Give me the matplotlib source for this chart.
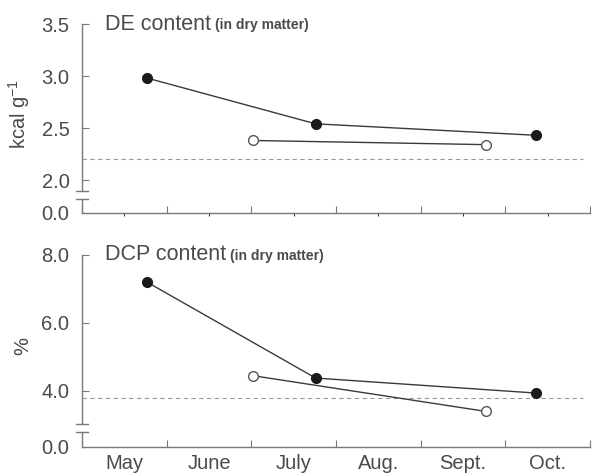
import matplotlib
matplotlib.use("Agg")
import matplotlib.pyplot as plt

plt.rcParams.update({"font.family": ["Liberation Sans", "DejaVu Sans"], "font.size": 14,
                     "mathtext.fontset": "custom", "mathtext.rm": "Liberation Sans",
                     "mathtext.it": "Liberation Sans:italic"})

TXT = "#4a4a4a"; AX = "#7a7a7a"; LN = "#3a3a3a"

months = ["May", "June", "July", "Aug.", "Sept.", "Oct."]

# sampling dates as fractional month position (0 = start of May)
de_fill_x = [0.77, 2.76, 5.36]
de_fill_y = [2.98, 2.54, 2.43]
de_open_x = [2.02, 4.77]
de_open_y = [2.38, 2.34]
de_ref = 2.20

dcp_fill_x = [0.77, 2.76, 5.36]
dcp_fill_y = [7.20, 4.38, 3.94]
dcp_open_x = [2.02, 4.77]
dcp_open_y = [4.45, 3.40]
dcp_ref = 3.78

W, H = 599, 476
fig = plt.figure(figsize=(W / 100, H / 100), dpi=100)

def fy(px):
    return 1 - px / H

L, R = 82 / W, 590 / W
FS = 14.5

def panel(top_px, brk1_px, brk2_px, base_px, ylim, yticks, ylabs, fx, fyv, ox, oyv, ref,
          title, sub, ylab, lab_y):
    # upper part of the broken axis
    ax = fig.add_axes([L, fy(brk1_px), R - L, fy(top_px) - fy(brk1_px)])
    ax.set_xlim(0, 6); ax.set_ylim(*ylim)
    for s in ["top", "right", "bottom"]:
        ax.spines[s].set_visible(False)
    ax.spines["left"].set_color(AX); ax.spines["left"].set_linewidth(1.0)
    ax.set_xticks([])
    ax.set_yticks(yticks); ax.set_yticklabels(ylabs)
    ax.tick_params(axis="y", direction="in", length=5, color=AX, labelcolor=TXT,
                   labelsize=FS, pad=9)
    ax.axhline(ref, xmin=0, xmax=582 / 590, color="#9a9a9a", lw=0.8, ls=(0, (4, 3)))
    ax.plot(fx, fyv, "-o", color=LN, lw=1.0, ms=7, mfc="#1a1a1a", mec="#1a1a1a", zorder=3)
    ax.plot(ox, oyv, "-o", color=LN, lw=1.0, ms=7, mfc="white", mec="#555555",
            mew=1.0, zorder=3)
    t = ax.text(0.045, 1.0, title, transform=ax.transAxes, fontsize=15.5, color=TXT,
                va="center", ha="left")
    ax.annotate(sub, xy=(1, 0.5), xycoords=t, xytext=(3, -1),
                textcoords="offset points", fontsize=10, color=TXT, va="center",
                fontweight="bold")
    ax.set_ylabel(ylab, color=TXT, fontsize=FS)
    ax.yaxis.set_label_coords(-0.098, lab_y)
    # break cap
    ax.plot([-0.07, 0.07], [ylim[0], ylim[0]], color=AX, lw=1.0, clip_on=False)

    # lower part holding the zero and the month axis
    bx = fig.add_axes([L, fy(base_px), R - L, fy(brk2_px) - fy(base_px)])
    bx.set_xlim(0, 6); bx.set_ylim(0, 1)
    bx.spines[["top", "right"]].set_visible(False)
    for s in ["left", "bottom"]:
        bx.spines[s].set_color(AX); bx.spines[s].set_linewidth(1.0)
    bx.set_yticks([0]); bx.set_yticklabels(["0.0"])
    bx.tick_params(axis="y", length=0, labelcolor=TXT, labelsize=FS, pad=9)
    bx.set_xticks(range(7))
    bx.tick_params(axis="x", direction="in", length=5, color=AX, labelcolor=TXT)
    bx.set_xticks([i + 0.5 for i in range(6)], minor=True)
    bx.set_xticklabels([])
    bx.plot([-0.07, 0.07], [1, 1], color=AX, lw=1.0, clip_on=False)
    return ax, bx

panel(24, 191, 199, 213, (2.0 - 11 / 104, 3.5), [2.0, 2.5, 3.0, 3.5],
      ["2.0", "2.5", "3.0", "3.5"], de_fill_x, de_fill_y, de_open_x, de_open_y, de_ref,
      "DE content", "(in dry matter)", "kcal g$^{-1}$", 0.46)

ax2, bx2 = panel(255, 424, 432, 447, (4.0 - 33 / 34, 8.0), [4.0, 6.0, 8.0],
                 ["4.0", "6.0", "8.0"], dcp_fill_x, dcp_fill_y, dcp_open_x, dcp_open_y,
                 dcp_ref, "DCP content", "(in dry matter)", "%", 0.46)
bx2.set_xticklabels(months, minor=True)
bx2.tick_params(axis="x", which="minor", length=0, labelsize=FS, labelcolor=TXT, pad=5)

fig.savefig("out.png", dpi=100)
